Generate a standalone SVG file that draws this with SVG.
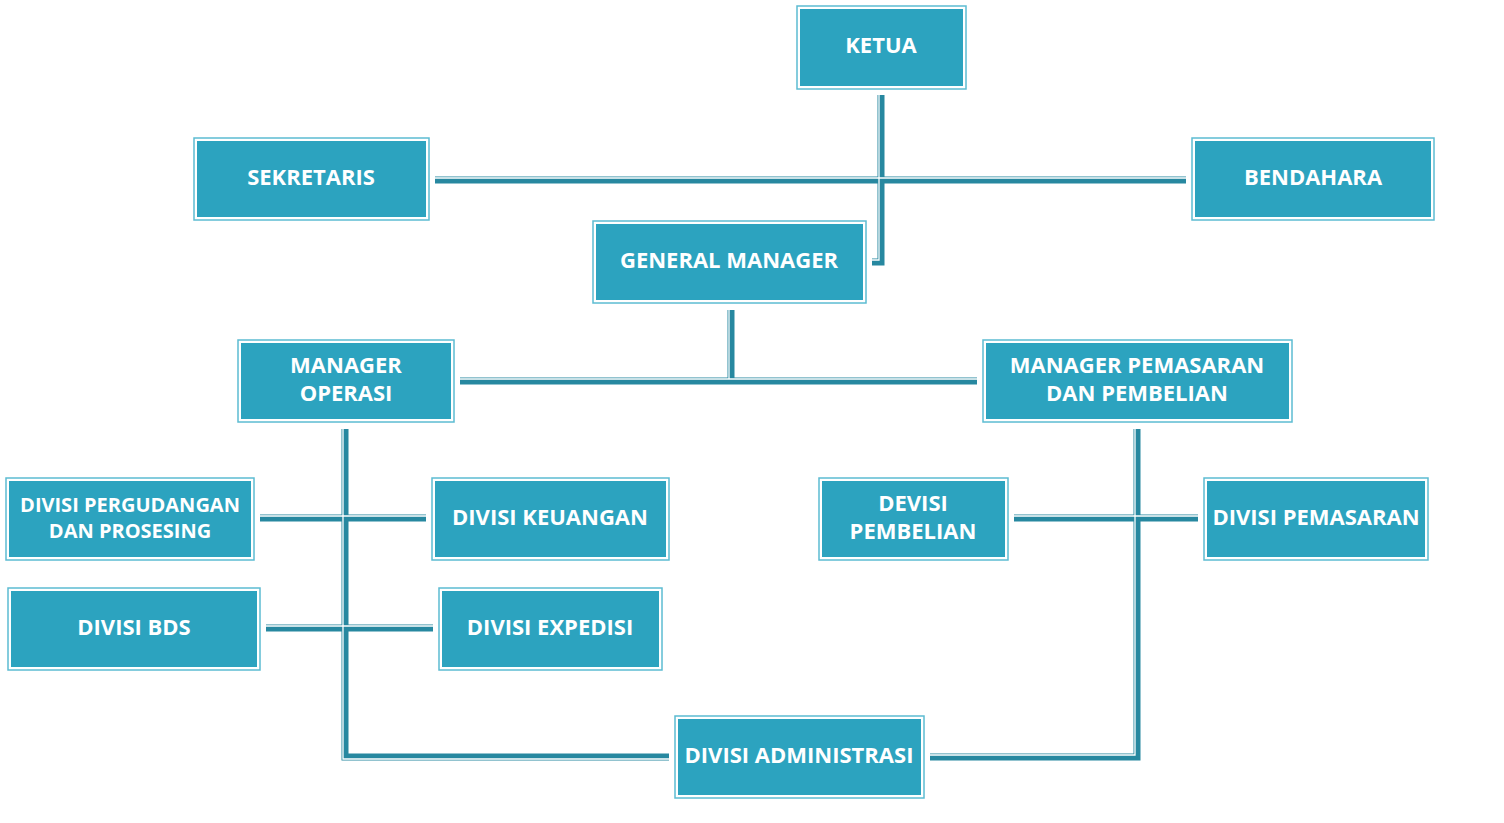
<svg xmlns="http://www.w3.org/2000/svg" width="1504" height="823" viewBox="0 0 1504 823">
<style>
.o{fill:#fff;stroke:#5cbcd2;stroke-width:1.5}
.i{fill:#2ca3bf}
.t{fill:#fff;font-family:"Open Sans",sans-serif;font-weight:bold;font-size:22px;text-anchor:middle}
.c{fill:none;stroke:#2788a0;stroke-width:7}
.w{fill:none;stroke:#fff;stroke-width:1.3}
</style>
<rect width="1504" height="823" fill="#fff"/>
<g id="connectors">
<path class="c" d="M881 95V262H872"/>
<path class="c" d="M435 180H1186"/>
<path class="c" d="M731 310V381"/>
<path class="c" d="M460 381H977"/>
<path class="c" d="M345 429V757H669"/>
<path class="c" d="M1137 429V757H930"/>
<path class="c" d="M260 518H426"/>
<path class="c" d="M266 628H433"/>
<path class="c" d="M1014 518H1198"/>
<path class="w" d="M879 95V260H872"/>
<path class="w" d="M435 178H1186"/>
<path class="w" d="M729 310V379"/>
<path class="w" d="M460 379H977"/>
<path class="w" d="M343 429V759H669"/>
<path class="w" d="M1135 429V755H930"/>
<path class="w" d="M260 516H426"/>
<path class="w" d="M266 626H433"/>
<path class="w" d="M1014 516H1198"/>
</g>
<g id="ketua"><rect class="o" x="797" y="6" width="169" height="83"/><rect class="i" x="800" y="9" width="163" height="77"/><text class="t" x="881" y="53">KETUA</text></g>
<g id="sekretaris"><rect class="o" x="194" y="138" width="235" height="82"/><rect class="i" x="197" y="141" width="229" height="76"/><text class="t" x="311" y="185">SEKRETARIS</text></g>
<g id="bendahara"><rect class="o" x="1192" y="138" width="242" height="82"/><rect class="i" x="1195" y="141" width="236" height="76"/><text class="t" x="1313" y="185">BENDAHARA</text></g>
<g id="gm"><rect class="o" x="593" y="221" width="273" height="82"/><rect class="i" x="596" y="224" width="267" height="76"/><text class="t" x="729" y="268">GENERAL MANAGER</text></g>
<g id="mo"><rect class="o" x="238" y="340" width="216" height="82"/><rect class="i" x="241" y="343" width="210" height="76"/><text class="t" x="346" y="373">MANAGER</text><text class="t" x="346" y="401">OPERASI</text></g>
<g id="mp"><rect class="o" x="983" y="340" width="309" height="82"/><rect class="i" x="986" y="343" width="303" height="76"/><text class="t" x="1137" y="373">MANAGER PEMASARAN</text><text class="t" x="1137" y="401">DAN PEMBELIAN</text></g>
<g id="pergudangan"><rect class="o" x="6" y="478" width="248" height="82"/><rect class="i" x="9" y="481" width="242" height="76"/><text class="t" x="130" y="512" style="font-size:20px">DIVISI PERGUDANGAN</text><text class="t" x="130" y="538" style="font-size:20px">DAN PROSESING</text></g>
<g id="keuangan"><rect class="o" x="432" y="478" width="237" height="82"/><rect class="i" x="435" y="481" width="231" height="76"/><text class="t" x="550" y="525">DIVISI KEUANGAN</text></g>
<g id="pembelian"><rect class="o" x="819" y="478" width="189" height="82"/><rect class="i" x="822" y="481" width="183" height="76"/><text class="t" x="913" y="511">DEVISI</text><text class="t" x="913" y="539">PEMBELIAN</text></g>
<g id="pemasaran"><rect class="o" x="1204" y="478" width="224" height="82"/><rect class="i" x="1207" y="481" width="218" height="76"/><text class="t" x="1316" y="525">DIVISI PEMASARAN</text></g>
<g id="bds"><rect class="o" x="8" y="588" width="252" height="82"/><rect class="i" x="11" y="591" width="246" height="76"/><text class="t" x="134" y="635">DIVISI BDS</text></g>
<g id="expedisi"><rect class="o" x="439" y="588" width="223" height="82"/><rect class="i" x="442" y="591" width="217" height="76"/><text class="t" x="550" y="635">DIVISI EXPEDISI</text></g>
<g id="administrasi"><rect class="o" x="675" y="716" width="249" height="82"/><rect class="i" x="678" y="719" width="243" height="76"/><text class="t" x="799" y="763">DIVISI ADMINISTRASI</text></g>
</svg>
